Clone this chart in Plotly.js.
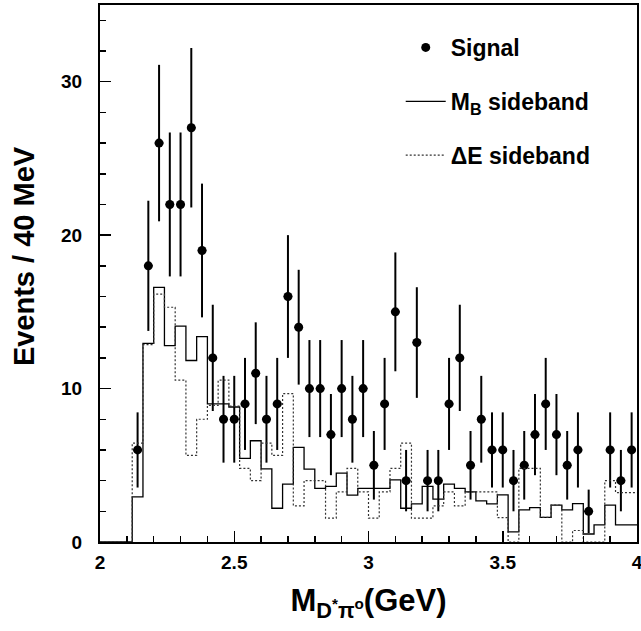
<!DOCTYPE html>
<html>
<head>
<meta charset="utf-8">
<script src="https://cdn.plot.ly/plotly-3.0.1.min.js"></script>
<style>html,body{margin:0;padding:0;background:#fff;}</style>
</head>
<body>
<div id="chart" style="width:641px;height:631px;"></div>
<script>
// Signal: bin centres (GeV) and event counts
const sigX = [2.14,2.18,2.22,2.26,2.30,2.34,2.38,2.42,2.46,2.50,2.54,2.58,2.62,2.66,2.70,2.74,2.78,2.82,2.86,2.90,2.94,2.98,3.02,3.06,3.10,3.14,3.18,3.22,3.26,3.30,3.34,3.38,3.42,3.46,3.50,3.54,3.58,3.62,3.66,3.70,3.74,3.78,3.82,3.90,3.94,3.98];
const sigY = [6,18,26,22,22,27,19,12,8,8,9,11,8,9,16,14,10,10,7,10,8,10,5,9,15,4,13,4,4,9,12,5,8,6,6,4,5,7,9,7,5,6,2,6,4,6];

// Histogram bin edges (GeV), 40 MeV bins
const binEdges = [2.00,2.04,2.08,2.12,2.16,2.20,2.24,2.28,2.32,2.36,2.40,2.44,2.48,2.52,2.56,2.60,2.64,2.68,2.72,2.76,2.80,2.84,2.88,2.92,2.96,3.00,3.04,3.08,3.12,3.16,3.20,3.24,3.28,3.32,3.36,3.40,3.44,3.48,3.52,3.56,3.60,3.64,3.68,3.72,3.76,3.80,3.84,3.88,3.92,3.96,4.00];

// M_B sideband (solid), one value per bin
const mbSide = [0,0,0,2.94,12.94,16.6,12.8,14.07,11.83,13.38,9.0,9.0,8.8,5.45,6.6,4.77,2.2,3.77,6.17,4.75,3.49,3.62,4.49,3.05,3.49,3.49,3.49,4.05,2.2,2.48,3.62,2.79,3.77,3.49,3.27,2.68,2.48,3.07,0.66,2.09,2.24,1.61,2.4,2.09,2.5,0.52,1.11,2.4,1.11,1.11];

// Delta E sideband (dotted), one value per bin
const deSide = [0,0,0,6.45,12.87,16.15,15.3,10.55,5.64,8.0,8.9,10.55,8.85,4.8,4.0,6.45,5.64,9.67,2.35,4.0,4.0,1.55,3.27,4.8,3.27,1.55,3.27,4.8,6.45,1.55,1.55,2.35,3.27,2.35,3.27,3.27,3.27,1.59,0,4.8,4.8,1.6,2.4,0,0.75,0,0,4.0,3.22,3.22];

const seriesNames = ["Signal", "M<sub>B</sub> sideband", "\u0394E sideband"];

function stepY(v){ return v.concat([v[v.length-1]]); }

const FONT = "Liberation Sans, Arial, Helvetica, sans-serif";

const traces = [
  {
    x: sigX, y: sigY, type: "scatter", mode: "markers", name: seriesNames[0],
    legendgroup: "a",
    marker: {color: "#000", size: 9, symbol: "circle"},
    error_y: {type: "sqrt", visible: true, color: "#000", thickness: 2, width: 0},
    error_x: {type: "constant", value: 0.016, visible: true, color: "#000", thickness: 1.5, width: 0},
    cliponaxis: true
  },
  {
    x: binEdges, y: stepY(mbSide), type: "scatter", mode: "lines", name: seriesNames[1],
    legendgroup: "b",
    line: {shape: "hv", color: "#000", width: 1.3}
  },
  {
    x: binEdges, y: stepY(deSide), type: "scatter", mode: "lines", name: seriesNames[2],
    legendgroup: "c",
    line: {shape: "hv", color: "#333", width: 1.2, dash: "2px,2px"}
  }
];

const axisCommon = {
  showgrid: false, zeroline: false,
  showline: true, linewidth: 2, linecolor: "#000", mirror: true,
  ticks: "inside", ticklen: 11, tickwidth: 1.5, tickcolor: "#000",
  ticklabeloverflow: "allow",
  tickfont: {family: FONT, size: 19, color: "#000", weight: "bold"}
};

const layout = {
  width: 641, height: 631,
  margin: {l: 100, r: 4, t: 5, b: 89},
  paper_bgcolor: "#fff", plot_bgcolor: "#fff",
  showlegend: true,
  legend: {
    x: 0.56, y: 0.961, xanchor: "left", yanchor: "top",
    bgcolor: "rgba(0,0,0,0)", borderwidth: 0,
    font: {family: FONT, size: 23, color: "#000", weight: "bold"},
    traceorder: "grouped", tracegroupgap: 21, itemwidth: 40
  },
  xaxis: Object.assign({}, axisCommon, {
    range: [2, 4], tick0: 2, dtick: 0.5,
    minor: {dtick: 0.1, ticks: "inside", ticklen: 6, tickwidth: 1.5, tickcolor: "#000"},
    ticklabelstandoff: 2,
    title: {text: "M<sub>D<sup>*</sup>\u03c0<sup>o</sup></sub>(GeV)", standoff: 18,
            font: {family: FONT, size: 31, color: "#000", weight: "bold"}}
  }),
  yaxis: Object.assign({}, axisCommon, {
    range: [0, 35], tick0: 0, dtick: 10,
    minor: {dtick: 2, ticks: "inside", ticklen: 6, tickwidth: 1.5, tickcolor: "#000"},
    ticklabelstandoff: 12
  }),
  annotations: [{
    text: "Events / 40 MeV", textangle: -90, showarrow: false,
    xref: "paper", yref: "paper", x: -0.1413, y: 0.5326,
    xanchor: "center", yanchor: "middle",
    font: {family: FONT, size: 29, color: "#000", weight: "bold"}
  }]
};

Plotly.newPlot("chart", traces, layout, {displayModeBar: false, staticPlot: true});
</script>
</body>
</html>
